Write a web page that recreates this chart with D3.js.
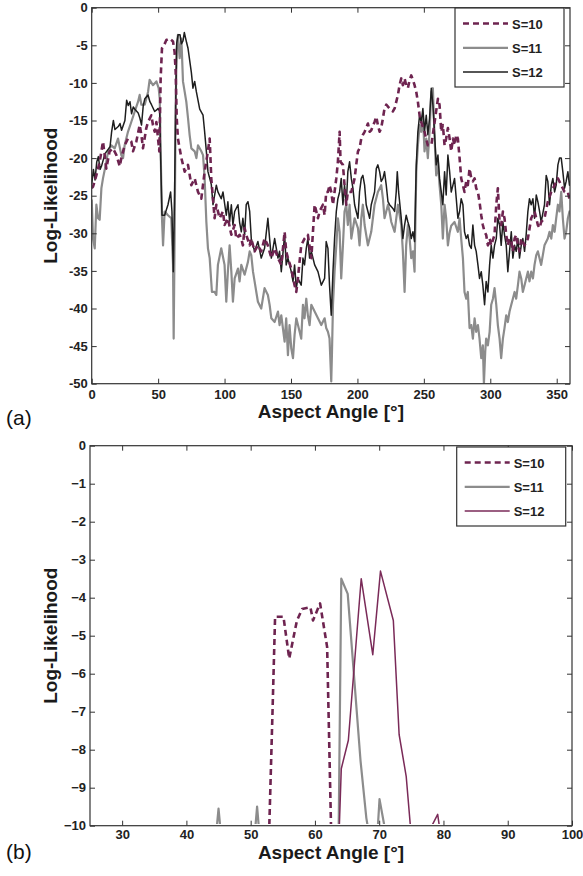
<!DOCTYPE html>
<html><head><meta charset="utf-8">
<script src="https://cdn.jsdelivr.net/npm/d3@7"></script>
<style>
html,body{margin:0;padding:0;background:#fff;}
svg{display:block;}
text{font-family:"Liberation Sans",Arial,sans-serif;}
</style></head>
<body>
<svg id="c" width="583" height="876"></svg>
<script>
// ---------- data: panel (a) ----------
const seriesNames = ["S=10","S=11","S=12"];
const topXTicks = [0,50,100,150,200,250,300,350];
const topYTicks = [0,-5,-10,-15,-20,-25,-30,-35,-40,-45,-50];

const topS10 = [[0,-24.0],[1.0,-23.8],[3.5,-22.3],[6.0,-20.5],[8.5,-17.8],[11.0,-21.4],[13.5,-19.1],[16.0,-18.7],[18.6,-19.6],[21.1,-21.1],[22.3,-20.0],[24.8,-18.3],[27.3,-17.4],[29.8,-17.8],[31.1,-19.1],[33.6,-17.8],[36.1,-15.6],[37.4,-16.9],[38.6,-18.7],[41.1,-16.0],[42.4,-15.2],[44.9,-14.3],[46.1,-15.6],[47.4,-16.5],[48.7,-15.2],[49.9,-17.4],[50.9,-19.1],[51.4,-14.3],[51.9,-9.4],[52.9,-5.4],[54.4,-5.0],[56.2,-4.3],[58.7,-4.1],[61.2,-4.5],[62.4,-5.9],[63.2,-8.5],[64.0,-14.7],[64.9,-17.4],[67.5,-20.0],[70.0,-21.8],[72.5,-20.9],[75.0,-23.6],[77.5,-22.7],[80.0,-24.5],[82.5,-25.4],[85.0,-21.8],[87.0,-19.6],[88.8,-17.4],[90.0,-22.7],[91.3,-25.4],[92.5,-28.0],[93.8,-26.2],[96.3,-28.0],[98.8,-27.1],[100.0,-28.9],[102.5,-28.0],[105.1,-30.2],[107.6,-28.9],[108.8,-30.7],[111.3,-30.2],[112.6,-30.7],[113.8,-31.6],[115.1,-29.3],[116.3,-30.2],[118.9,-31.6],[120.1,-30.7],[122.6,-32.4],[125.1,-31.6],[127.6,-32.4],[130.1,-30.7],[132.6,-31.6],[135.2,-33.3],[137.7,-32.0],[140.2,-33.3],[142.7,-34.2],[145.2,-29.8],[146.4,-32.4],[147.7,-33.3],[150.2,-34.7],[152.7,-36.9],[154.0,-37.8],[155.2,-36.0],[157.7,-31.6],[160.2,-30.7],[162.7,-30.2],[165.3,-33.3],[167.8,-26.2],[170.3,-28.0],[171.5,-27.1],[174.0,-26.2],[175.3,-27.6],[176.5,-24.5],[177.8,-24.5],[179.0,-23.6],[180.3,-24.5],[181.6,-26.2],[182.8,-24.5],[184.1,-22.7],[185.3,-20.5],[186.6,-16.5],[187.3,-20.5],[189.1,-20.9],[190.3,-23.6],[191.6,-26.2],[192.8,-24.5],[195.4,-24.5],[196.6,-23.6],[197.9,-22.7],[199.1,-20.9],[200.4,-19.1],[201.6,-18.7],[202.9,-17.4],[204.1,-16.9],[205.4,-16.5],[206.6,-16.0],[207.9,-15.4],[209.2,-16.5],[210.4,-16.3],[212.9,-15.2],[214.2,-14.5],[215.4,-15.6],[216.7,-16.5],[217.9,-16.0],[219.2,-14.7],[220.4,-13.4],[221.7,-12.9],[224.2,-13.4],[226.7,-13.8],[228.0,-13.4],[230.5,-11.6],[231.7,-10.3],[233.0,-9.4],[234.2,-10.3],[235.5,-9.4],[236.7,-10.3],[238.0,-10.7],[239.3,-9.6],[240.5,-9.0],[241.8,-9.6],[243.0,-10.3],[244.3,-11.2],[245.5,-12.5],[246.8,-14.3],[248.0,-15.2],[250.5,-16.5],[253.0,-18.3],[255.6,-18.3],[258.1,-15.2],[260.6,-12.1],[261.8,-12.9],[263.1,-16.5],[264.3,-15.6],[265.6,-18.3],[266.8,-17.4],[268.1,-16.0],[269.4,-17.4],[270.6,-19.1],[271.9,-17.4],[273.1,-18.3],[274.4,-16.9],[275.6,-17.4],[276.9,-20.0],[278.1,-22.7],[279.4,-23.6],[280.6,-24.5],[281.9,-23.1],[283.1,-23.6],[284.4,-21.4],[285.7,-22.7],[286.9,-23.1],[288.2,-22.7],[289.4,-24.0],[290.7,-24.5],[291.9,-25.8],[293.2,-27.6],[294.4,-28.9],[295.7,-29.8],[296.9,-30.2],[298.2,-31.6],[299.5,-30.7],[300.7,-31.6],[303.2,-30.2],[304.5,-26.2],[305.7,-24.0],[307.0,-28.5],[308.2,-28.9],[309.5,-27.1],[310.7,-28.0],[312.0,-30.2],[313.2,-31.6],[314.5,-30.7],[315.8,-31.1],[317.0,-32.4],[318.3,-30.7],[319.5,-30.2],[320.8,-31.6],[322.0,-32.4],[323.3,-30.7],[325.8,-31.6],[328.3,-30.7],[330.8,-28.0],[333.3,-27.1],[334.6,-28.0],[335.8,-28.9],[337.1,-29.3],[338.3,-28.5],[340.8,-28.0],[343.3,-25.8],[345.9,-24.5],[348.4,-23.6],[350.9,-22.7],[353.4,-23.6],[355.9,-24.5],[358.4,-24.5],[360,-25.8]];

const topS11 = [[0,-25.5],[1.0,-30.7],[2.3,-32.0],[3.5,-26.2],[4.8,-28.0],[6.0,-28.2],[7.3,-24.0],[8.5,-22.7],[11.0,-20.5],[12.3,-19.1],[14.8,-18.3],[17.3,-18.7],[19.8,-17.4],[22.3,-19.6],[23.6,-20.0],[24.8,-18.3],[27.3,-16.5],[29.8,-15.2],[32.4,-13.8],[34.9,-12.5],[36.1,-11.6],[37.4,-12.9],[39.9,-12.9],[42.4,-11.2],[43.6,-9.6],[46.1,-10.3],[48.7,-9.8],[50.4,-10.7],[51.2,-12.1],[51.9,-19.1],[52.9,-28.0],[53.7,-31.6],[54.9,-27.1],[57.4,-27.6],[59.9,-28.0],[61.2,-34.2],[61.7,-44.0],[62.4,-30.7],[63.2,-12.9],[64.0,-5.4],[64.9,-3.6],[66.2,-6.7],[67.5,-4.1],[68.7,-9.8],[70.0,-11.2],[71.2,-12.5],[72.5,-14.7],[73.7,-16.9],[75.0,-18.7],[77.5,-19.1],[78.8,-20.0],[80.0,-18.3],[82.5,-19.1],[83.8,-19.6],[85.0,-22.7],[86.3,-28.5],[87.5,-32.0],[88.8,-33.3],[90.5,-37.8],[92.5,-37.8],[93.8,-38.2],[95.0,-34.2],[97.5,-32.0],[100.0,-34.2],[101.3,-39.1],[102.5,-35.1],[103.8,-31.6],[105.1,-35.1],[106.3,-39.1],[107.6,-36.0],[110.1,-34.7],[111.3,-36.4],[112.6,-34.2],[115.1,-35.5],[117.6,-33.8],[118.9,-32.4],[120.1,-32.9],[121.4,-35.1],[122.6,-36.4],[125.1,-39.1],[127.6,-40.0],[130.1,-37.3],[132.6,-38.2],[133.9,-39.5],[135.2,-41.3],[137.7,-41.8],[140.2,-40.4],[141.4,-42.2],[142.7,-40.9],[145.2,-44.4],[146.4,-41.3],[147.7,-46.2],[148.9,-42.2],[150.2,-45.3],[151.5,-46.6],[152.7,-43.5],[154.0,-41.3],[156.5,-43.1],[157.7,-44.0],[159.0,-39.5],[160.2,-41.3],[161.5,-38.7],[162.7,-40.9],[164.0,-42.2],[165.3,-39.5],[167.8,-40.4],[170.3,-41.3],[172.8,-42.2],[175.3,-41.3],[176.5,-42.6],[177.8,-43.1],[179.0,-44.0],[180.3,-49.7],[180.8,-46.2],[181.6,-39.5],[182.8,-35.1],[184.1,-31.6],[185.3,-28.0],[186.6,-29.8],[187.8,-36.0],[189.1,-31.6],[190.3,-27.1],[191.6,-26.2],[192.8,-28.9],[194.1,-26.2],[195.4,-30.7],[197.9,-28.0],[200.4,-29.3],[201.6,-31.6],[202.9,-28.0],[204.1,-26.2],[205.4,-28.9],[207.9,-31.6],[210.4,-29.8],[212.9,-26.2],[215.4,-24.5],[217.9,-23.6],[219.2,-25.4],[220.4,-28.0],[221.7,-27.1],[223.0,-26.2],[224.2,-27.1],[225.5,-28.5],[228.0,-29.8],[230.5,-26.2],[233.0,-28.9],[234.2,-32.4],[235.5,-37.8],[236.7,-31.6],[238.0,-28.9],[239.3,-30.7],[240.5,-33.3],[241.8,-32.4],[243.0,-35.1],[244.3,-21.8],[245.5,-18.3],[246.8,-15.6],[248.0,-16.5],[249.3,-14.3],[250.5,-19.1],[251.8,-17.4],[253.0,-20.0],[254.3,-16.5],[255.6,-11.2],[256.8,-10.7],[258.1,-17.4],[259.3,-22.3],[260.6,-20.5],[261.8,-23.6],[263.1,-26.2],[264.3,-30.7],[265.6,-26.2],[266.8,-28.0],[268.1,-31.6],[269.3,-30.0],[270.6,-29.0],[273.1,-28.5],[275.6,-29.8],[276.9,-28.0],[278.1,-30.7],[279.4,-33.3],[280.6,-37.8],[281.9,-38.7],[283.1,-37.8],[284.4,-42.6],[285.7,-42.2],[286.9,-44.0],[288.2,-41.3],[289.4,-43.1],[290.7,-42.2],[291.9,-44.0],[293.2,-46.6],[294.4,-44.9],[295.2,-50.0],[296.2,-45.7],[296.9,-44.0],[298.2,-44.9],[299.5,-43.1],[300.7,-39.5],[302.0,-38.7],[303.2,-37.3],[304.5,-39.5],[305.7,-42.2],[307.0,-44.0],[308.2,-46.6],[309.5,-44.0],[310.7,-42.6],[312.0,-40.9],[313.2,-41.8],[314.5,-40.4],[315.8,-39.5],[317.0,-38.7],[318.3,-37.8],[319.5,-38.7],[320.8,-36.9],[322.0,-35.1],[323.3,-36.0],[324.5,-37.8],[325.8,-36.9],[328.3,-35.1],[329.5,-36.4],[330.8,-35.1],[332.1,-36.0],[333.3,-34.2],[334.6,-32.9],[335.8,-32.4],[338.3,-34.2],[340.8,-31.6],[343.3,-30.7],[344.6,-29.8],[345.9,-30.7],[347.1,-28.9],[348.4,-29.8],[349.6,-28.0],[350.9,-26.2],[352.1,-27.1],[353.4,-24.5],[354.6,-28.0],[355.9,-30.7],[357.1,-29.8],[358.4,-28.0],[359.6,-27.1],[360,-27.5]];

const topS12 = [[0,-23.5],[1.3,-21.5],[2.5,-22.9],[3.8,-20.5],[5.0,-19.8],[6.3,-21.5],[7.5,-21.0],[10.0,-19.4],[12.5,-18.8],[13.8,-18.5],[15.0,-16.5],[16.3,-15.0],[17.5,-16.2],[20.0,-15.8],[21.3,-15.4],[22.5,-16.3],[25.0,-15.0],[26.3,-12.3],[27.5,-13.0],[28.8,-12.5],[30.0,-14.1],[31.3,-13.2],[32.5,-13.5],[35.0,-14.0],[36.3,-14.7],[37.5,-15.6],[38.8,-13.0],[40.0,-12.1],[42.4,-11.6],[43.8,-12.5],[45.0,-12.9],[47.4,-13.8],[48.9,-13.6],[49.9,-13.4],[51.2,-13.8],[51.9,-20.0],[52.9,-27.6],[54.9,-27.6],[57.4,-26.2],[59.4,-24.5],[60.4,-27.1],[61.4,-35.1],[62.4,-24.5],[63.2,-12.9],[64.0,-4.7],[65.0,-3.6],[66.5,-3.6],[67.5,-4.8],[68.7,-4.4],[69.7,-3.3],[71.5,-4.7],[72.5,-5.4],[75.0,-8.6],[76.2,-10.7],[77.5,-9.8],[78.8,-11.2],[81.3,-13.5],[83.8,-14.3],[85.0,-16.5],[86.3,-19.1],[87.5,-21.8],[90.0,-23.5],[91.3,-26.2],[93.8,-23.6],[95.0,-24.5],[97.5,-25.4],[98.8,-24.5],[101.3,-27.6],[102.5,-25.8],[103.8,-28.5],[105.1,-26.2],[106.3,-28.9],[107.6,-27.1],[110.1,-26.2],[111.3,-28.5],[112.6,-29.8],[113.8,-28.0],[115.1,-30.2],[116.3,-26.2],[117.6,-25.8],[118.9,-27.1],[120.1,-30.7],[122.6,-32.4],[125.1,-31.1],[127.6,-33.3],[130.1,-32.0],[132.6,-28.0],[133.9,-30.7],[135.2,-33.3],[137.7,-30.7],[140.2,-33.3],[141.4,-32.4],[142.7,-35.1],[145.2,-30.2],[146.4,-34.2],[147.7,-33.3],[150.2,-35.1],[151.5,-36.4],[152.7,-34.2],[154.0,-37.3],[155.2,-36.0],[157.7,-36.9],[159.0,-33.3],[160.2,-34.2],[161.5,-32.0],[162.7,-30.7],[164.0,-33.3],[165.3,-32.4],[167.8,-34.2],[170.3,-35.1],[172.8,-36.9],[175.3,-36.0],[176.5,-31.1],[177.8,-32.0],[179.0,-36.9],[180.3,-40.9],[181.6,-35.1],[182.8,-30.7],[184.1,-27.1],[185.3,-25.4],[186.6,-24.5],[187.8,-22.7],[189.1,-26.2],[190.3,-23.6],[191.6,-26.2],[192.8,-21.8],[194.1,-20.5],[195.4,-22.7],[196.6,-24.0],[197.9,-26.2],[199.1,-27.1],[200.4,-28.0],[201.6,-24.5],[202.9,-22.7],[204.1,-22.3],[205.4,-23.6],[206.6,-26.2],[207.9,-27.1],[209.2,-28.0],[210.4,-26.2],[212.9,-24.5],[214.2,-21.4],[215.4,-20.9],[216.7,-21.8],[217.9,-23.1],[219.2,-22.7],[220.4,-21.8],[221.7,-23.6],[223.0,-25.8],[224.2,-26.2],[226.7,-26.7],[228.0,-27.1],[229.2,-24.5],[230.0,-21.8],[231.0,-24.5],[233.0,-28.0],[234.2,-30.7],[235.5,-28.9],[236.7,-27.6],[238.0,-28.5],[239.3,-29.3],[240.5,-30.7],[241.8,-29.8],[243.0,-31.1],[244.3,-20.9],[245.5,-16.5],[246.8,-14.3],[248.0,-15.2],[249.3,-13.4],[250.5,-16.5],[251.8,-14.3],[253.0,-16.9],[254.3,-14.7],[255.6,-10.7],[256.8,-12.9],[258.1,-16.9],[259.3,-20.9],[260.6,-19.6],[261.8,-22.7],[263.1,-24.5],[264.3,-26.2],[265.6,-21.8],[266.8,-24.9],[268.1,-19.6],[269.4,-21.8],[270.6,-24.5],[271.9,-23.6],[273.1,-22.7],[274.4,-25.4],[275.6,-28.0],[276.9,-27.1],[278.1,-25.4],[279.4,-26.2],[280.6,-29.8],[281.9,-30.7],[283.1,-30.2],[284.4,-31.6],[285.7,-32.0],[286.9,-28.9],[288.2,-31.6],[289.4,-32.4],[290.7,-34.2],[291.9,-36.0],[293.2,-35.1],[294.4,-36.9],[295.7,-39.5],[296.9,-36.4],[298.2,-37.8],[299.5,-34.2],[300.7,-31.6],[302.0,-33.3],[303.2,-31.6],[304.5,-30.7],[305.7,-28.0],[307.0,-28.9],[308.2,-31.6],[309.5,-28.5],[310.7,-30.2],[312.0,-31.6],[313.2,-35.1],[314.5,-32.4],[315.8,-29.8],[317.0,-33.3],[318.3,-31.6],[319.5,-32.4],[320.8,-30.7],[322.0,-33.3],[323.3,-31.6],[324.5,-30.7],[325.8,-32.4],[327.0,-30.2],[328.3,-27.1],[329.5,-25.4],[330.8,-26.2],[332.1,-25.4],[333.3,-28.0],[334.6,-24.9],[335.8,-25.8],[337.1,-27.1],[338.3,-28.5],[340.8,-26.2],[342.1,-22.3],[343.3,-23.1],[344.6,-26.2],[345.9,-23.6],[347.1,-22.7],[348.4,-24.5],[349.6,-23.6],[350.9,-20.9],[352.1,-20.0],[353.4,-20.0],[354.6,-21.8],[355.9,-24.0],[357.1,-23.1],[358.4,-21.8],[359.6,-23.6],[360,-23.0]];

// ---------- data: panel (b) ----------
const botXTicks = [30,40,50,60,70,80,90,100];
const botYTicks = [0,-1,-2,-3,-4,-5,-6,-7,-8,-9,-10];
const botS10 = [[25,-10],[52.9,-10],[53.4,-7.0],[53.8,-4.5],[55.1,-4.5],[56.0,-5.6],[57.2,-4.6],[58.0,-4.3],[59.3,-4.25],[59.7,-4.6],[60.8,-4.15],[61.9,-5.3],[62.5,-10],[100,-10]];
const botS11 = [[25,-10],[44.75,-10],[45.0,-9.55],[45.25,-10],[50.75,-10],[51.0,-9.5],[51.25,-10],[63.7,-10],[64.1,-3.5],[65.1,-3.9],[65.6,-5.0],[67.1,-8.3],[68.0,-9.8],[68.2,-10],[69.8,-10],[70.05,-9.3],[70.8,-10],[100,-10]];
const botS12 = [[25,-10],[63.8,-10],[64.1,-8.5],[65.2,-7.75],[67.2,-3.5],[69.0,-5.5],[70.2,-3.3],[72.2,-4.6],[73.1,-7.6],[74.2,-8.7],[74.85,-10],[78.2,-10],[79.1,-9.7],[79.35,-10],[100,-10]];

// ---------- drawing ----------
const svg = d3.select("#c");
svg.append("rect").attr("width",583).attr("height",876).attr("fill","#fff");

function panel(cfg){
  const g = svg.append("g");
  const x = d3.scaleLinear().domain(cfg.xDomain).range([cfg.left, cfg.right]);
  const y = d3.scaleLinear().domain(cfg.yDomain).range([cfg.bottom, cfg.top]);
  const clipId = "clip"+cfg.id;
  svg.append("clipPath").attr("id",clipId).append("rect")
    .attr("x",cfg.left).attr("y",cfg.top).attr("width",cfg.right-cfg.left).attr("height",cfg.bottom-cfg.top-cfg.clipInset);
  const line = d3.line().x(d=>x(d[0])).y(d=>y(d[1]));
  const lg = g.append("g").attr("clip-path",`url(#${clipId})`);
  cfg.drawOrder.forEach(i=>{
    const s = cfg.series[i];
    lg.append("path").datum(s.data).attr("d",line).attr("fill","none")
      .attr("stroke",s.color).attr("stroke-width",s.width)
      .attr("stroke-dasharray",s.dash||null).attr("stroke-linejoin","round");
  });
  const axc = "#333";
  const xb = g.append("g").attr("transform",`translate(0,${cfg.bottom})`)
    .call(d3.axisBottom(x).tickValues(cfg.xTicks).tickSizeInner(-5).tickSizeOuter(0).tickPadding(cfg.xPad).tickFormat(d3.format("d")));
  const xt = g.append("g").attr("transform",`translate(0,${cfg.top})`)
    .call(d3.axisTop(x).tickValues(cfg.xTicks).tickSizeInner(-5).tickSizeOuter(0).tickFormat(""));
  const yl = g.append("g").attr("transform",`translate(${cfg.left},0)`)
    .call(d3.axisLeft(y).tickValues(cfg.yTicks).tickSizeInner(-5).tickSizeOuter(0).tickPadding(4).tickFormat(cfg.fmt));
  const yr = g.append("g").attr("transform",`translate(${cfg.right},0)`)
    .call(d3.axisRight(y).tickValues(cfg.yTicks).tickSizeInner(-5).tickSizeOuter(0).tickFormat(""));
  [xb,xt,yl,yr].forEach(a=>{
    a.select(".domain").remove();
    a.selectAll(".tick line").attr("stroke",axc).attr("stroke-width",1);
    a.selectAll(".tick text").attr("fill","#222").attr("font-size",13).attr("font-weight","bold")
      .attr("font-family","Liberation Sans, Arial, sans-serif");
  });
  g.append("rect").attr("x",cfg.left).attr("y",cfg.top).attr("width",cfg.right-cfg.left).attr("height",cfg.bottom-cfg.top)
    .attr("fill","none").attr("stroke",axc).attr("stroke-width",1.2);
  // axis titles
  g.append("text").attr("x",(cfg.left+cfg.right)/2).attr("y",cfg.bottom+cfg.titleDy).attr("text-anchor","middle")
    .attr("font-size",19).attr("font-weight","bold").attr("fill","#1a1a1a").text("Aspect Angle [°]");
  g.append("text").attr("transform",`translate(57,${(cfg.top+cfg.bottom)/2}) rotate(-90)`).attr("text-anchor","middle")
    .attr("font-size",19).attr("font-weight","bold").attr("fill","#1a1a1a").text("Log-Likelihood");
  // panel label
  g.append("text").attr("x",6).attr("y",cfg.bottom+cfg.labelDy).attr("font-family","Liberation Serif, Times New Roman, serif")
    .attr("font-size",21).attr("fill","#111").text(cfg.label);
  // legend
  const L = cfg.legend;
  g.append("rect").attr("x",L.x).attr("y",L.y).attr("width",L.w).attr("height",L.h)
    .attr("fill","#fff").attr("stroke","#333").attr("stroke-width",1.2);
  cfg.series.forEach((s,i)=>{
    const cy = L.y + 15.5 + i*24.3;
    g.append("line").attr("x1",L.x+8).attr("x2",L.x+53).attr("y1",cy).attr("y2",cy)
      .attr("stroke",s.color).attr("stroke-width",s.width).attr("stroke-dasharray",s.dash||null);
    g.append("text").attr("x",L.x+57).attr("y",cy+5).attr("font-size",13).attr("font-weight","bold")
      .attr("fill","#222").text(seriesNames[i]);
  });
}

panel({
  id:"a", xDomain:[0,360], yDomain:[-50,0], left:91.7, right:570, top:7.7, bottom:383.7, clipInset:0,
  xTicks:topXTicks, yTicks:topYTicks, fmt:d=>String(d), label:"(a)", titleDy:34, labelDy:41, xPad:6,
  legend:{x:455,y:8,w:109,h:79},
  series:[
    {data:topS10, color:"#6e2450", width:2.6, dash:"6,4"},
    {data:topS11, color:"#8c8c8c", width:2.2},
    {data:topS12, color:"#1e1e1e", width:1.5}
  ],
  drawOrder:[1,2,0]
});

panel({
  id:"b", xDomain:[25,100], yDomain:[-10,0], left:90, right:572, top:445.7, bottom:825.7, clipInset:1.6,
  xTicks:botXTicks, yTicks:botYTicks, fmt:d=>(d<0?"\u2212"+(-d):String(d)), label:"(b)", titleDy:33.5, labelDy:33, xPad:4,
  legend:{x:456.7,y:447,w:109,h:79},
  series:[
    {data:botS10, color:"#6e2450", width:2.6, dash:"6,4"},
    {data:botS11, color:"#8c8c8c", width:2.2},
    {data:botS12, color:"#7a2a58", width:1.5}
  ],
  drawOrder:[0,1,2]
});
</script>
</body></html>
